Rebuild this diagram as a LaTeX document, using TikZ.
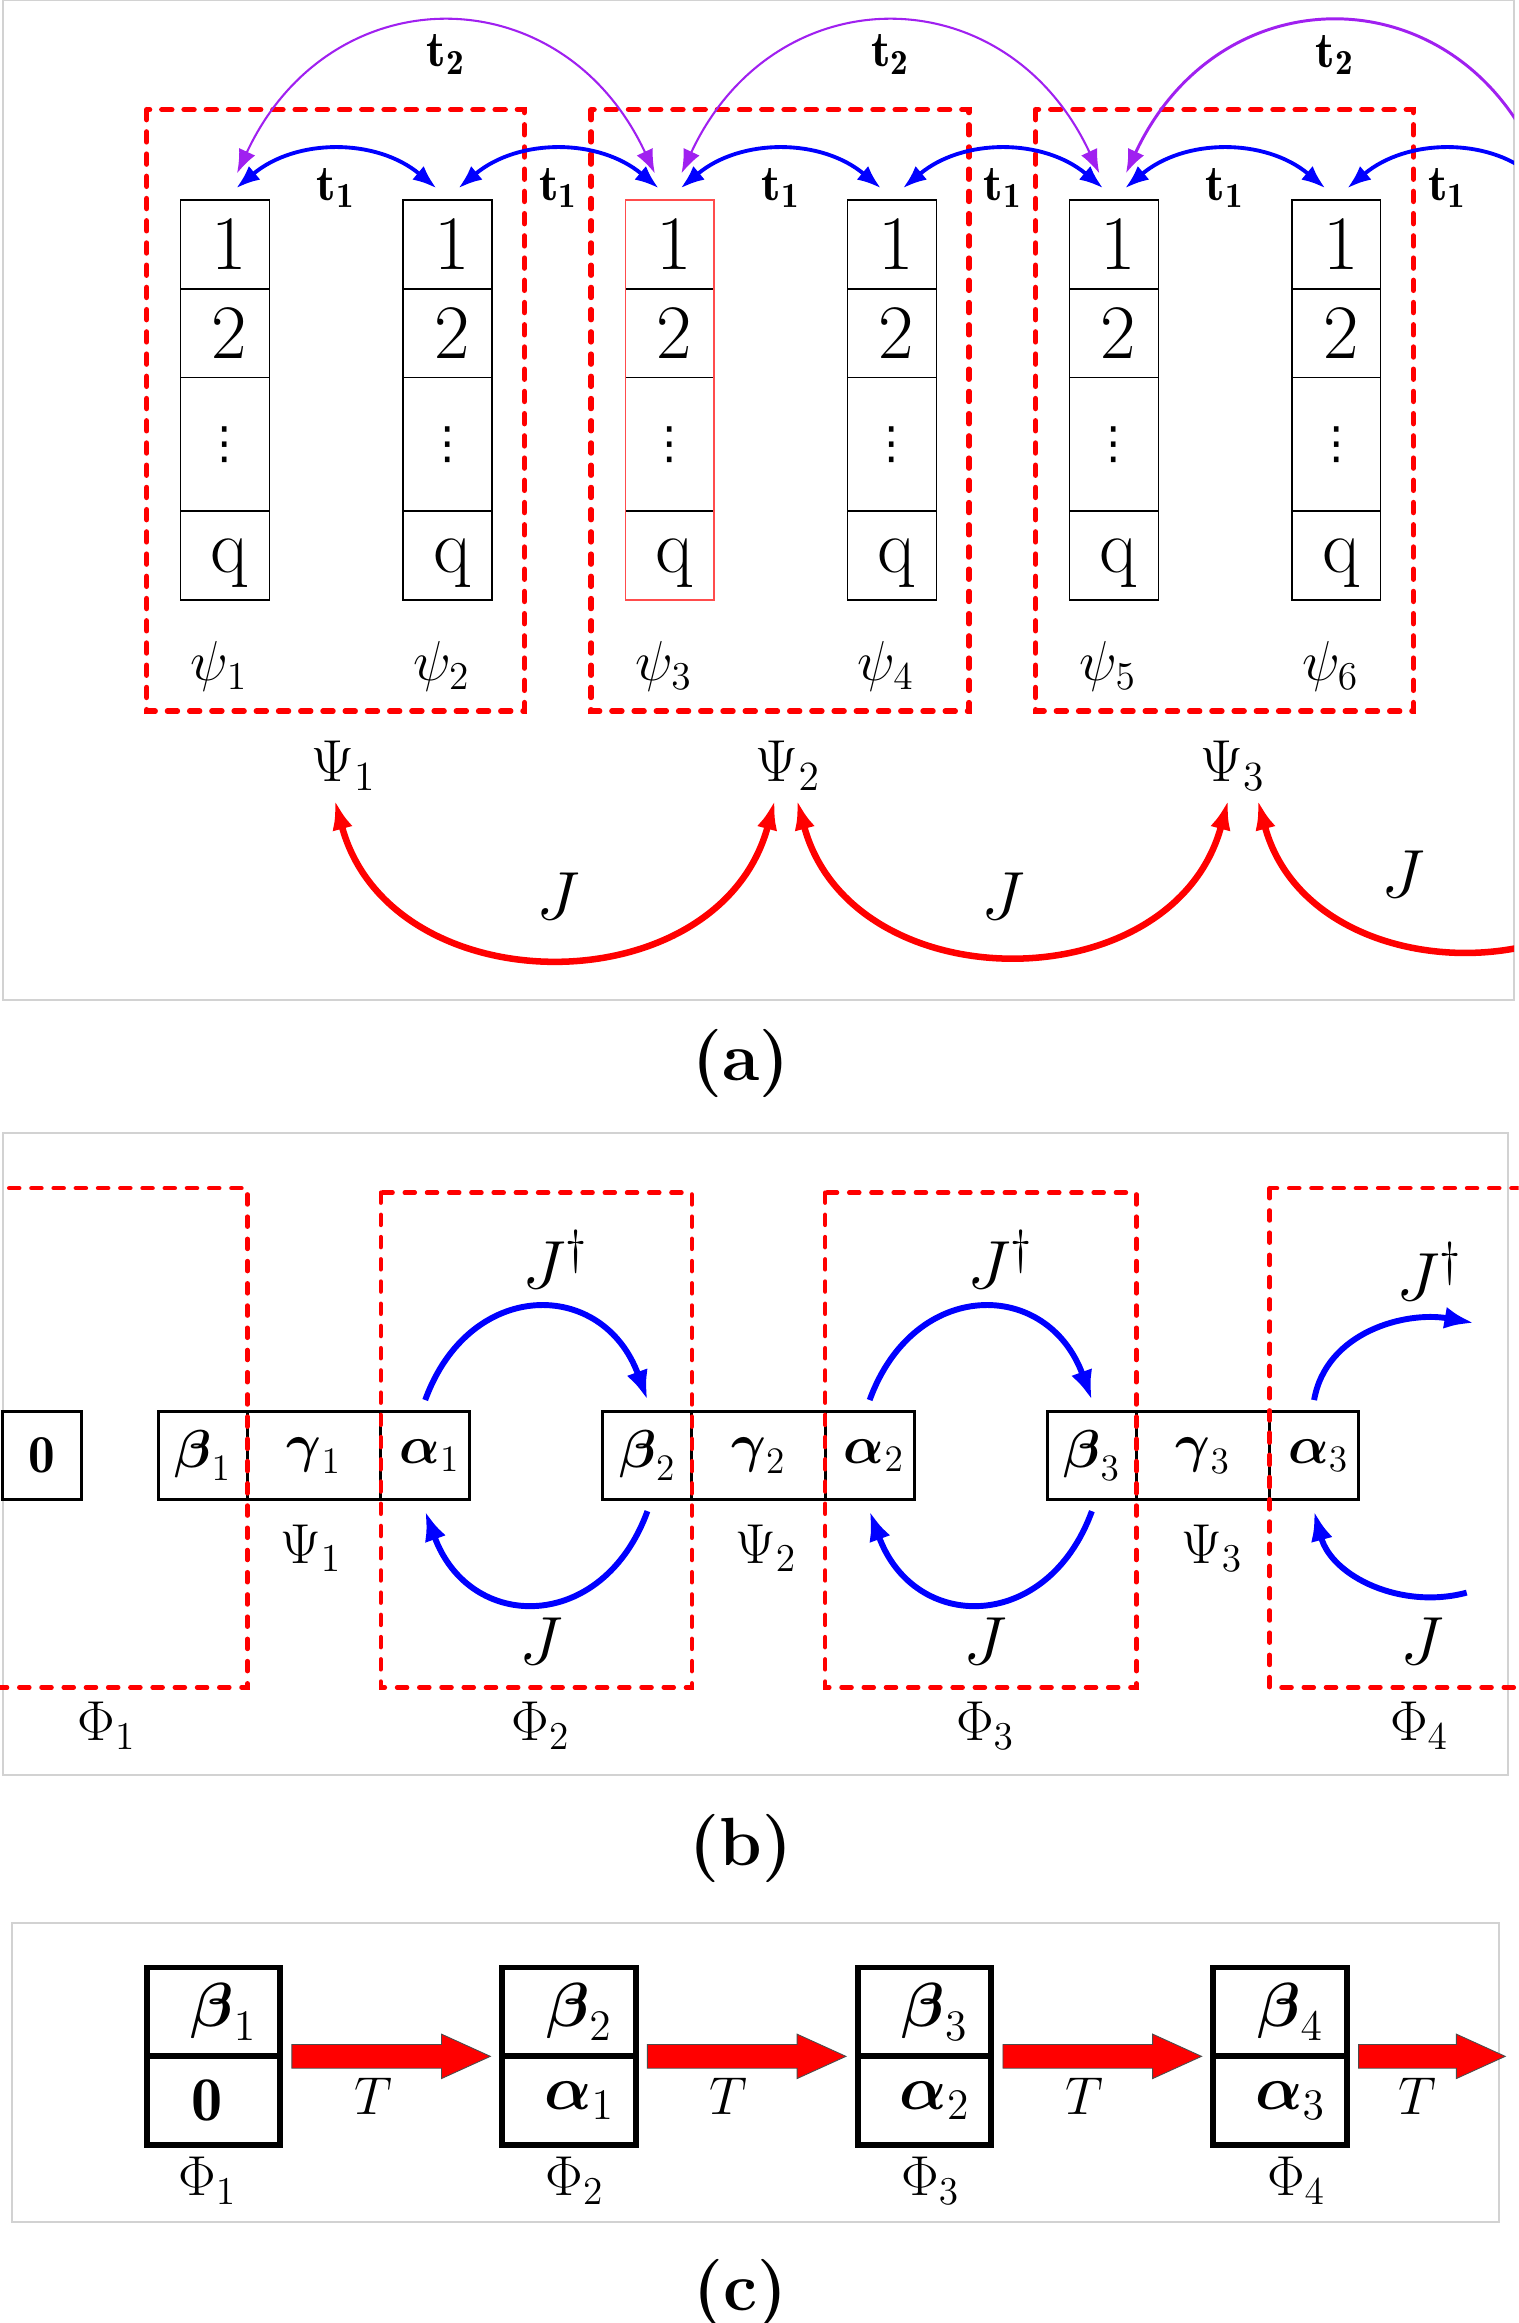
\RequirePackage{fix-cm}
\documentclass[tikz,border=0pt]{standalone}
\usepackage{amsmath}
\usepackage{fontspec}
\newfontfamily\dotsfont{DejaVu Sans}
\usetikzlibrary{arrows.meta,positioning,calc}
\definecolor{tpurple}{RGB}{160,32,240}
\newcommand{\setfs}[1]{\fontsize{#1}{#1}\selectfont}
\tikzset{
  panel/.style={draw=gray!35,line width=0.6pt},
  cell/.style={draw,line width=0.45pt,minimum width=30pt,inner sep=0pt,outer sep=0pt,font=\setfs{26}},
  grp/.style={red,line width=1.8pt,dash pattern=on 3.4pt off 4.1pt,line cap=round},
  hop/.style={blue,line width=1.3pt,{Latex[length=8pt,width=6pt]}-{Latex[length=8pt,width=6pt]}},
  hopp/.style={tpurple,line width=0.7pt,{Latex[length=8pt,width=6pt]}-{Latex[length=8pt,width=6pt]}},
  jarc/.style={red,line width=2.2pt,{Latex[length=10pt,width=7pt]}-{Latex[length=10pt,width=7pt]}},
  flip/.style={blue,line width=2pt,-{Latex[length=10pt,width=7.5pt]}},
  box/.style={draw,line width=1pt,minimum height=29.5pt,inner sep=0pt,outer sep=0pt,font=\setfs{18}},
  slot/.style={draw,line width=2pt,minimum width=45pt,minimum height=30pt,inner sep=0pt,outer sep=0pt,font=\setfs{21}},
  bigarrow/.style={fill=red,draw=black!70,line width=0.3pt},
}
\begin{document}
\begin{tikzpicture}[x=0.5pt,y=0.5pt]
  \useasboundingbox (0,0) rectangle (1025,-1568);
  \clip (0,0) rectangle (1025,-1568);

  % (a) sites, groups and hoppings
  \draw[panel] (2,0) rectangle (1022,-675);
  \foreach \k in {0,1,2}
    \draw[grp] (99+300*\k,-74) rectangle (354+300*\k,-480);
  \foreach \i in {1,...,6}{
    \pgfmathsetmacro{\cx}{152+150*(\i-1)}
    \node[cell,minimum height=30pt] (c\i1) at (\cx,-165) {\hspace*{3pt}1};
    \node[cell,minimum height=30pt,below=0pt of c\i1] (c\i2) {\hspace*{3pt}2};
    \node[cell,minimum height=45pt,below=0pt of c\i2] (c\i3) {\dotsfont\setfs{15}⋮};
    \node[cell,minimum height=30pt,text depth=0pt,below=0pt of c\i3] (c\i4) {\hspace*{3pt}q};
    \node[font=\setfs{19}] (psi\i) at (\cx-4,-450) {$\psi_{\i}$};
    \coordinate (top\i) at (c\i1.north);
  }
  \draw[red!70,line width=0.45pt] (c31.north west) rectangle (c34.south east);
  \foreach \k/\x in {1/232,2/532,3/832}
    \node[font=\setfs{20}] (Psi\k) at (\x,-517) {$\Psi_{\k}$};
  \coordinate (top7) at (1052,-135);
  \coordinate (Psi4) at (1132,-517);

  \begin{scope}
    \clip (2,0) rectangle (1022,-675);
    \foreach \i/\j in {1/2,2/3,3/4,4/5,5/6,6/7}
      \draw[hop] ($(top\i)+(7.5,8)$) to[bend left=40]
        node[midway,below=2pt,black,font=\setfs{17}] (ta\i) {$\mathbf{t_1}$} ($(top\j)+(-7.5,8)$);
    \foreach \i/\j/\w in {1/3/0.7pt,3/5/0.7pt,5/7/1pt}
      \draw[hopp,line width=\w] ($(top\i)+(8,18)$) to[bend left=65,looseness=1.35]
        node[midway,below=0pt,black,font=\setfs{17}] (tb\i) {$\mathbf{t_2}$} ($(top\j)+(-10,18)$);
    \foreach \k/\j/\s/\e in {1/2/-6/-9,2/3/6/-3,3/4/17/-3}
      \draw[jarc] ($(Psi\k)+(\s,-23)$) to[bend right=75,looseness=1.25] ($(Psi\j)+(\e,-23)$);
  \end{scope}
  \foreach \k/\x/\y in {1/377/605,2/677/605,3/947/590}
    \node[font=\setfs{23}] (J\k) at (\x,-\y) {$J$};
  \node[font=\setfs{23}\bfseries] (lbla) at (500,-718) {(a)};

  % (b) blocks
  \draw[panel] (2,-765) rectangle (1018,-1198);
  \node[box,minimum width=26.5pt] (zero) at (28.5,-982.5) {$\mathbf{0}$};
  \foreach \k in {1,2,3}{
    \node[box,minimum width=30pt] (b\k) at (137+300*\k-300,-982.5) {$\boldsymbol{\beta}_{\k}$};
    \node[box,minimum width=45pt,right=0pt of b\k] (g\k) {$\boldsymbol{\gamma}_{\k}$};
    \node[box,minimum width=30pt,right=0pt of g\k] (a\k) {\hspace*{3pt}$\boldsymbol{\alpha}_{\k}$};
  }
  \foreach \k/\x in {1/210,2/517,3/818}
    \node[font=\setfs{19}] (Q\k) at (\x,-1045) {$\Psi_{\k}$};
  \draw[grp,line width=1.5pt] (-10,-802) rectangle (167,-1139);
  \draw[grp,line width=1.5pt] (257,-805) rectangle (467,-1139);
  \draw[grp,line width=1.5pt] (557,-805) rectangle (767,-1139);
  \draw[grp,line width=1.5pt] (857,-802) rectangle (1040,-1139);
  \foreach \k/\x in {1/72,2/365,3/665,4/958}
    \node[font=\setfs{19}] (F\k) at (\x,-1165) {$\Phi_{\k}$};
  \foreach \k/\j in {1/2,2/3}{
    \draw[flip] ($(a\k.north)+(0,8)$) to[bend left=70,looseness=1.5] ($(b\j.north)+(0,8)$);
    \draw[flip] ($(b\j.south)+(0,-8)$) to[bend left=70,looseness=1.5] ($(a\k.south)+(0,-8)$);
  }
  \coordinate (out4) at (995,-893);
  \coordinate (in4) at (990,-1075);
  \draw[flip] ($(a3.north)+(0,8)$) to[out=80,in=170] (out4);
  \draw[flip] (in4) to[out=195,in=-75] ($(a3.south)+(0,-8)$);
  \foreach \k/\x/\y in {1/375/850,2/675/850,3/965/858}
    \node[font=\setfs{23}] (Jd\k) at (\x,-\y) {$J^\dagger$};
  \foreach \k/\x in {1/365,2/665,3/960}
    \node[font=\setfs{23}] (Jb\k) at (\x,-1108) {$J$};
  \node[font=\setfs{23}\bfseries] (lblb) at (500,-1248) {(b)};

  % (c) transfer
  \draw[panel] (8,-1298) rectangle (1012,-1500);
  \foreach \k/\x in {1/144,2/384,3/624,4/864}
    \node[slot] (u\k) at (\x,-1358) {\hspace*{7pt}$\boldsymbol{\beta}_{\k}$};
  \foreach \k/\m in {1/{\hspace*{-4pt}$\mathbf{0}$},2/{\hspace*{7pt}$\boldsymbol{\alpha}_1$},3/{\hspace*{7pt}$\boldsymbol{\alpha}_2$},4/{\hspace*{7pt}$\boldsymbol{\alpha}_3$}}
    \node[slot,below=0pt of u\k] (l\k) {\m};
  \foreach \k/\j in {1/2,2/3,3/4}{
    \coordinate (s\k) at ($(u\k.south east)+(8,0)$);
    \coordinate (e\k) at ($(u\j.south west)+(-8,0)$);
  }
  \coordinate (s4) at ($(u4.south east)+(8,0)$);
  \coordinate (e4) at (1016,-1388);
  \foreach \k in {1,...,4}
    \filldraw[bigarrow] ($(s\k)+(0,8)$) -- ($(e\k)+(-33,8)$) -- ($(e\k)+(-33,15)$) -- (e\k)
      -- ($(e\k)+(-33,-15)$) -- ($(e\k)+(-33,-8)$) -- ($(s\k)+(0,-8)$) -- cycle;
  \foreach \k/\x in {1/252,2/492,3/732,4/957}
    \node[font=\setfs{18}] (T\k) at (\x,-1415) {$T$};
  \foreach \k/\x in {1/140,2/388,3/628,4/875}
    \node[font=\setfs{19}] (P\k) at (\x,-1472) {$\Phi_{\k}$};
  \node[font=\setfs{23}\bfseries] (lblc) at (500,-1548) {(c)};
\end{tikzpicture}
\end{document}
